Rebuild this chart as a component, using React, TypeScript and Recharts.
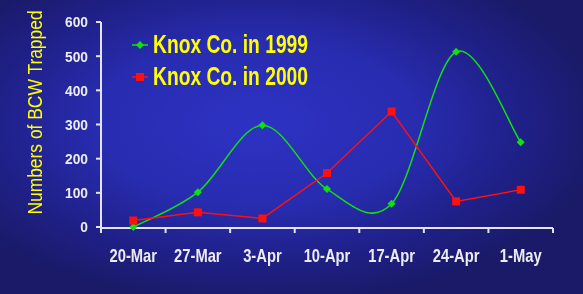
import { Line, LineChart, XAxis, YAxis } from 'recharts';

const dates = ['20-Mar', '27-Mar', '3-Apr', '10-Apr', '17-Apr', '24-Apr', '1-May'];
const knox1999 = [0, 102, 298, 111, 68, 513, 248];
const knox2000 = [19, 43, 25, 158, 338, 75, 109];
const seriesNames = ['Knox Co. in 1999', 'Knox Co. in 2000'];
const yTicks = [0, 100, 200, 300, 400, 500, 600];

const data = dates.map((date, i) => ({
  idx: i,
  date,
  y1999: knox1999[i],
  y2000: knox2000[i],
}));

const bandEdges = [-0.5, 0.5, 1.5, 2.5, 3.5, 4.5, 5.5, 6.5];
const centers = dates.map((_, i) => i);

const FONT = '"Liberation Sans", Arial, sans-serif';
const GREEN = '#10e010';
const RED = '#ff1010';
const YELLOW = '#ffff00';
const AXIS = '#e4e4f0';
const TICK = '#ececf4';

// excel-like smoothed line (catmull-rom through the points)
const smoothCurve = (ctx: any) => {
  let pts: number[][] = [];
  return {
    areaStart() {},
    areaEnd() {},
    lineStart() {
      pts = [];
    },
    lineEnd() {
      if (!pts.length) return;
      ctx.moveTo(pts[0][0], pts[0][1]);
      for (let i = 0; i < pts.length - 1; i++) {
        const p0 = pts[i - 1] ?? pts[i];
        const p1 = pts[i];
        const p2 = pts[i + 1];
        const p3 = pts[i + 2] ?? p2;
        ctx.bezierCurveTo(
          p1[0] + (p2[0] - p0[0]) / 6,
          p1[1] + (p2[1] - p0[1]) / 6,
          p2[0] - (p3[0] - p1[0]) / 6,
          p2[1] - (p3[1] - p1[1]) / 6,
          p2[0],
          p2[1],
        );
      }
    },
    point(x: number, y: number) {
      pts.push([x, y]);
    },
  };
};

const Diamond = ({ cx, cy }: any) => (
  <path d={`M${cx},${cy - 4}L${cx + 4},${cy}L${cx},${cy + 4}L${cx - 4},${cy}Z`} fill={GREEN} />
);

const Square = ({ cx, cy }: any) => (
  <rect x={cx - 4} y={cy - 4} width={8} height={8} fill={RED} />
);

const LegendBox = () => (
  <svg width={260} height={70} style={{ position: 'absolute', left: 128, top: 28 }}>
    {seriesNames.map((name, i) => {
      const cy = 17 + i * 32;
      const color = i === 0 ? GREEN : RED;
      return (
        <g key={name}>
          <line x1={4} x2={20} y1={cy} y2={cy} stroke={color} strokeWidth={1.5} />
          {i === 0 ? <Diamond cx={12} cy={cy} /> : <Square cx={12} cy={cy} />}
          <text
            transform={`translate(25,${cy + 8}) scale(0.77,1)`}
            fill={YELLOW}
            fontFamily={FONT}
            fontWeight="bold"
            fontSize={25}
          >
            {name}
          </text>
        </g>
      );
    })}
  </svg>
);

const DateTick = ({ x, y, payload }: any) => (
  <text
    transform={`translate(${x},${y}) scale(0.82,1)`}
    y={35}
    textAnchor="middle"
    fill={TICK}
    fontFamily={FONT}
    fontWeight="bold"
    fontSize={18}
  >
    {dates[payload.value]}
  </text>
);

const ValueTick = ({ x, y, payload }: any) => (
  <text
    transform={`translate(${x},${y}) scale(0.92,1)`}
    dy="0.36em"
    textAnchor="end"
    fill={TICK}
    fontFamily={FONT}
    fontWeight="bold"
    fontSize={15}
  >
    {payload.value}
  </text>
);

const YLabel = ({ viewBox }: any) => {
  const cx = 36;
  const cy = viewBox.y + viewBox.height / 2 - 12;
  return (
    <text
      transform={`translate(${cx},${cy}) rotate(-90) scale(0.83,1)`}
      textAnchor="middle"
      dominantBaseline="middle"
      fill={YELLOW}
      fontFamily={FONT}
      fontSize={21}
    >
      Numbers of BCW Trapped
    </text>
  );
};

export default function App() {
  return (
    <div
      style={{
        position: 'fixed',
        left: 0,
        top: 0,
        width: 583,
        height: 294,
        background:
          'radial-gradient(ellipse 60% 62% at 44% 42%, #2d32c4 0%, #282cb0 45%, #1f2088 75%, #1a1a68 100%)',
      }}
    >
      <LineChart
        width={583}
        height={294}
        data={data}
        margin={{ top: 22, right: 30, bottom: 65, left: 0 }}
      >
        <XAxis
          xAxisId="lines"
          type="number"
          dataKey="idx"
          domain={[-0.5, 6.5]}
          ticks={bandEdges}
          tick={() => <g />}
          tickSize={5}
          height={1}
          stroke={AXIS}
          strokeWidth={2}
          allowDecimals
        />
        <XAxis
          xAxisId="labels"
          type="number"
          dataKey="idx"
          domain={[-0.5, 6.5]}
          ticks={centers}
          tick={<DateTick />}
          tickSize={0}
          tickMargin={0}
          axisLine={false}
          tickLine={false}
          height={1}
        />
        <YAxis
          domain={[0, 600]}
          ticks={yTicks}
          width={101}
          tickSize={5}
          tickMargin={8}
          stroke={AXIS}
          strokeWidth={2}
          tick={<ValueTick />}
          label={<YLabel />}
        />
        <Line
          xAxisId="lines"
          dataKey="y1999"
          type={smoothCurve as any}
          stroke={GREEN}
          strokeWidth={1.5}
          dot={<Diamond />}
          activeDot={false}
          isAnimationActive={false}
        />
        <Line
          xAxisId="lines"
          dataKey="y2000"
          type="linear"
          stroke={RED}
          strokeWidth={1.5}
          dot={<Square />}
          activeDot={false}
          isAnimationActive={false}
        />
      </LineChart>
      <LegendBox />
    </div>
  );
}
